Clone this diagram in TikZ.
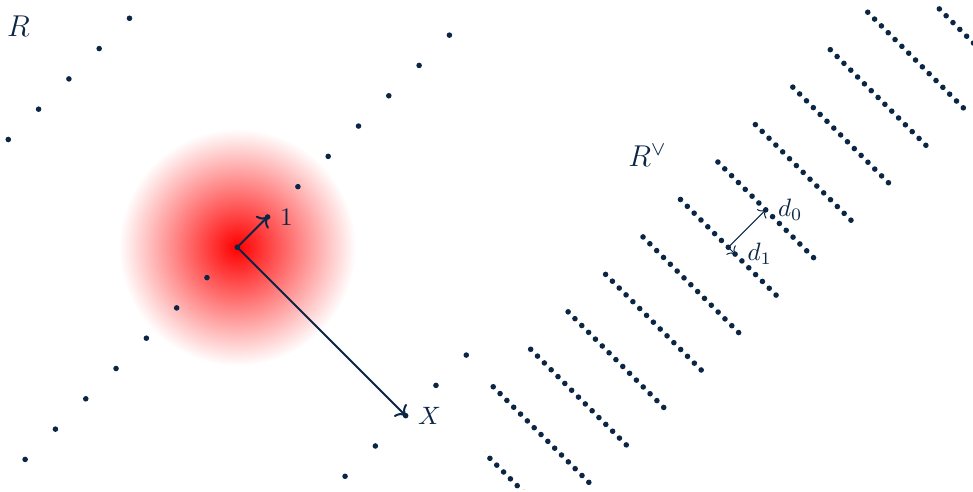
\documentclass[tikz,border=0pt]{standalone}
\usepackage{amsmath}
\usepackage{amssymb}
\usepackage{xcolor}
\usepackage{tikz}
\usetikzlibrary{arrows.meta,positioning}
\definecolor{cnavy}{HTML}{0B2545}
\tikzset{
  pt/.style={fill=cnavy},
  vec/.style={draw=cnavy,thick,-{To}},
  dvec/.style={draw=cnavy,thin,-{To}},
  lab/.style={text=cnavy,font=\normalsize},
  ttl/.style={text=cnavy,font=\large,anchor=base west,inner sep=0pt},
}

\begin{document}
\begin{tikzpicture}
\useasboundingbox (-3.322,-3.426) rectangle (10.300,3.462);

% ================= LEFT: the lattice R =================
\shade[inner color=red,outer color=white] (0,0) circle (1.66);
\begin{scope}[rotate=45]
  \coordinate (o) at (0,0);
  \coordinate (one) at (0.6,0);
  \coordinate (xx) at (0,-3.334);
  \foreach \i in {-7,...,7}
    \fill[pt] (\i*0.6,0) circle (0.039);
  \foreach \j in {-3.334,3.334}
    \foreach \i in {-2,...,2}
      \fill[pt] (\i*0.6,\j) circle (0.039);
\end{scope}
\draw[vec] (o) -- (one);
\draw[vec] (o) -- (xx);
\node[lab,right=0.05cm of one] (lone) {$1$};
\node[lab,right=0.05cm of xx] (lx) {$X$};
\node[ttl] (lr) at (-3.231,2.954) {$R$};

% ================= RIGHT: the dual lattice =================
\begin{scope}
  \clip (3.48,-3.395) rectangle (10.300,3.375);
  \begin{scope}[shift={(6.874,0)},rotate=45]
    \coordinate (o2) at (0,0);
    \coordinate (dzero) at (0.7415,0);
    \coordinate (done) at (0,-0.1352);
    \foreach \a in {-6,...,6}
      \foreach \b in {-7,...,7}
        \fill[pt] (\a*0.7415,\b*0.1352) circle (0.039);
  \end{scope}
\end{scope}
\draw[dvec] (o2) -- (dzero);
\draw[dvec] (o2) -- (done);
\node[lab,right=0.05cm of dzero] (ldzero) {$d_0$};
\node[lab,right=0.05cm of done] (ldone) {$d_1$};
\node[ttl] (lrdual) at (5.470,1.131) {$R^\vee$};

\end{tikzpicture}
\end{document}
